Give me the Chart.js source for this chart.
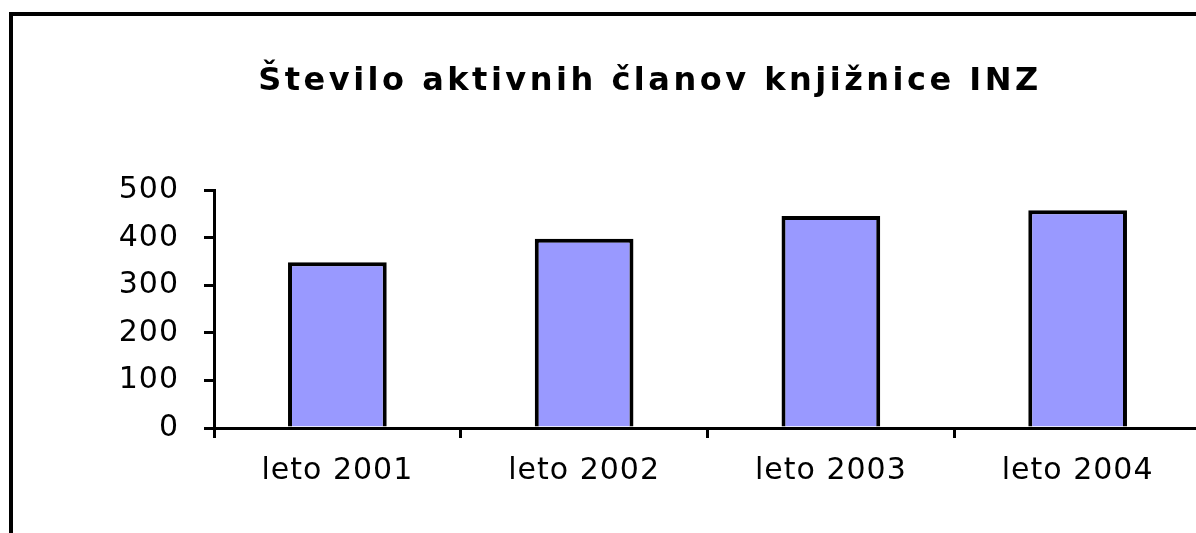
<!DOCTYPE html>
<html>
<head>
<meta charset="utf-8">
<script src="https://cdn.jsdelivr.net/npm/chart.js@4.4.1/dist/chart.umd.min.js"></script>
<style>
  html, body { margin: 0; padding: 0; background: #fff; overflow: hidden; width: 1196px; height: 533px; }
  #okvir { position: absolute; left: 9px; top: 12px; width: 2000px; height: 1000px;
           border-left: 4px solid #000; border-top: 4px solid #000; }
  #graf { position: absolute; left: 0; top: 0; }
</style>
</head>
<body>
<div id="okvir"></div>
<canvas id="graf" width="1220" height="533"></canvas>
<script>
// podatki odčitani s slike
var leta = ['leto 2001', 'leto 2002', 'leto 2003', 'leto 2004'];
var aktivniClani = [349, 398, 446, 458];
var naslov = 'Število aktivnih članov knjižnice INZ';

// razmik med črkami (naslov je na sliki precej razpotegnjen)
var razmikCrk = {
  id: 'razmikCrk',
  beforeDraw: function (chart) { chart.ctx.letterSpacing = '3.5px'; },
  afterDatasetsDraw: function (chart) { chart.ctx.letterSpacing = '1px'; }
};

var ctx = document.getElementById('graf').getContext('2d');
new Chart(ctx, {
  type: 'bar',
  data: {
    labels: leta,
    datasets: [{
      label: 'Aktivni člani',
      data: aktivniClani,
      backgroundColor: '#9999ff',
      borderColor: '#000000',
      borderWidth: 4,
      borderSkipped: 'bottom',
      categoryPercentage: 1,
      barPercentage: 0.4
    }]
  },
  options: {
    responsive: false,
    animation: false,
    devicePixelRatio: 1,
    layout: { padding: { top: 62, left: 99, right: 19, bottom: 0 } },
    plugins: {
      legend: { display: false },
      tooltip: { enabled: false },
      title: {
        display: true,
        text: naslov,
        color: '#000',
        font: { family: 'DejaVu Sans', size: 32, weight: 'bold', lineHeight: 1.2 },
        padding: { top: 0, bottom: 90 }
      }
    },
    scales: {
      x: {
        grid: { display: true, drawOnChartArea: false, drawTicks: true, tickLength: 10,
                lineWidth: 3, color: '#000', offset: true, z: 1 },
        border: { display: true, width: 3, color: '#000', z: 1 },
        ticks: { color: '#000', padding: 15, maxRotation: 0, z: 1,
                 font: { family: 'DejaVu Sans', size: 30 } },
        afterFit: function (s) { s.height = 105; }
      },
      y: {
        min: 0,
        max: 500,
        grid: { display: true, drawOnChartArea: false, drawTicks: true, tickLength: 10,
                lineWidth: 3, color: '#000', z: 1 },
        border: { display: true, width: 3, color: '#000', z: 1 },
        ticks: { stepSize: 100, color: '#000', padding: 25, z: 1,
                 font: { family: 'DejaVu Sans', size: 30 } },
        afterFit: function (s) { s.width = 115; }
      }
    }
  },
  plugins: [razmikCrk]
});
</script>
</body>
</html>
